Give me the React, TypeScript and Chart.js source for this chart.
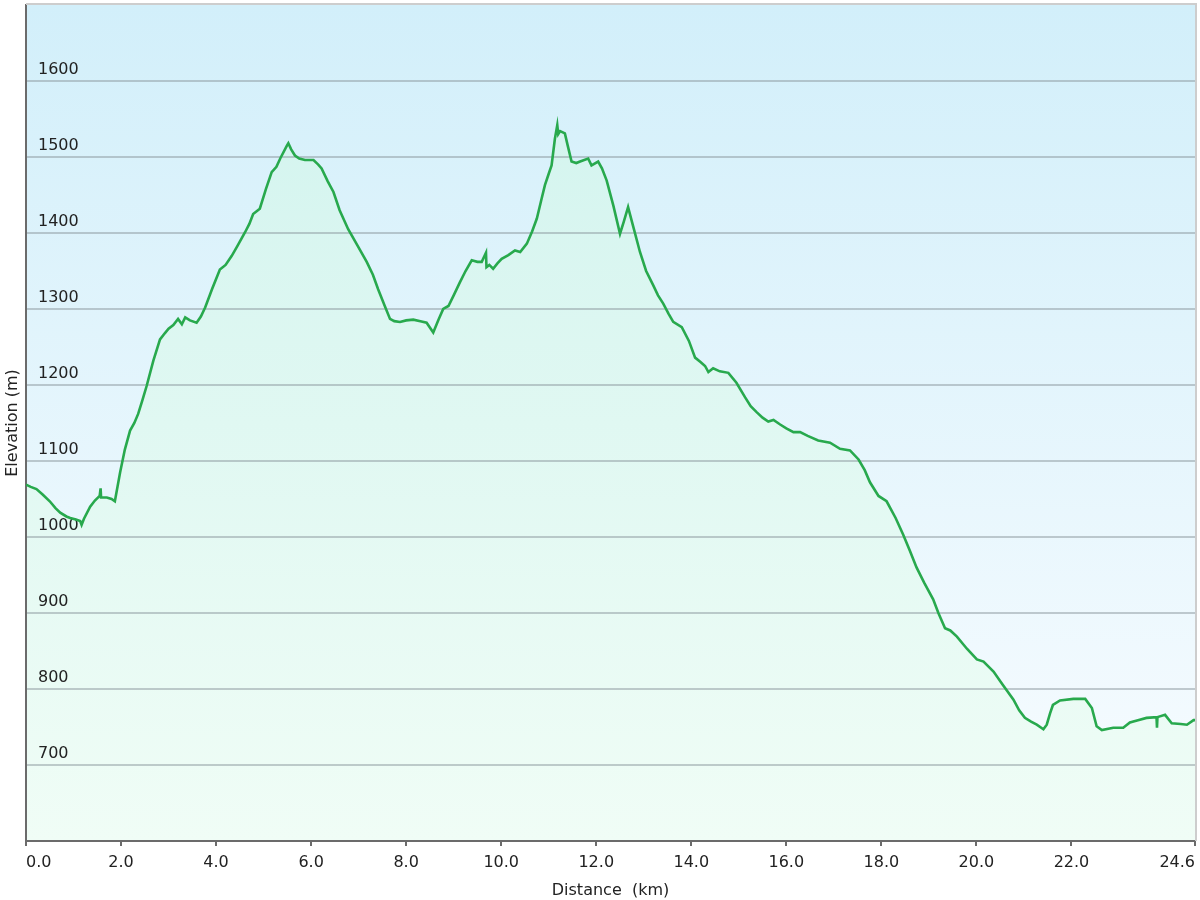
import React, { useEffect, useRef } from 'react';
import { Chart, registerables } from 'chart.js';

// Distance along the route (km)
const distanceKm = [
  0.0, 0.1, 0.22, 0.35, 0.5, 0.62, 0.72, 0.85, 0.93, 1.05, 1.14, 1.17, 1.22, 1.35, 1.45, 1.55, 1.57, 1.58, 1.7, 1.8,
  1.87, 1.98, 2.08, 2.19, 2.28, 2.36, 2.45, 2.54, 2.68, 2.82, 2.92, 3.0, 3.1, 3.2, 3.28, 3.35, 3.45, 3.59, 3.68, 3.77,
  3.92, 4.08, 4.2, 4.33, 4.45, 4.61, 4.7, 4.78, 4.92, 5.05, 5.17, 5.27, 5.35, 5.49, 5.52, 5.58, 5.66, 5.75, 5.87, 6.05,
  6.15, 6.22, 6.35, 6.47, 6.6, 6.78, 6.98, 7.17, 7.3, 7.41, 7.55, 7.66, 7.75, 7.87, 8.0, 8.15, 8.3, 8.43, 8.57, 8.68,
  8.78, 8.89, 9.0, 9.13, 9.25, 9.38, 9.5, 9.59, 9.68, 9.69, 9.75, 9.83, 9.92, 10.01, 10.15, 10.29, 10.4, 10.54, 10.65, 10.75,
  10.85, 10.92, 11.0, 11.06, 11.13, 11.18, 11.2, 11.24, 11.34, 11.4, 11.48, 11.58, 11.66, 11.83, 11.9, 12.04, 12.12, 12.22, 12.36, 12.5,
  12.58, 12.67, 12.78, 12.92, 13.05, 13.2, 13.3, 13.41, 13.52, 13.62, 13.8, 13.95, 14.08, 14.2, 14.29, 14.36, 14.46, 14.6, 14.78, 14.95,
  15.13, 15.25, 15.38, 15.5, 15.62, 15.73, 15.87, 16.0, 16.15, 16.29, 16.45, 16.67, 16.92, 17.13, 17.34, 17.52, 17.65, 17.76, 17.94, 18.11,
  18.3, 18.46, 18.6, 18.74, 18.9, 19.09, 19.2, 19.34, 19.45, 19.59, 19.8, 20.01, 20.15, 20.36, 20.55, 20.78, 20.9, 21.02, 21.15, 21.27,
  21.41, 21.48, 21.55, 21.61, 21.76, 22.04, 22.29, 22.43, 22.53, 22.64, 22.88, 23.09, 23.23, 23.4, 23.58, 23.79, 23.8, 23.81, 23.97, 24.11,
  24.3, 24.43, 24.57, 24.6,
];

// Elevation (m)
const elevationM = [
  1069, 1066, 1063, 1056, 1047, 1038, 1032, 1027, 1025, 1023, 1021, 1016, 1024, 1040, 1048, 1054, 1064, 1052, 1052, 1050,
  1047, 1085, 1115, 1140, 1150, 1162, 1180, 1199, 1232, 1260, 1268, 1274, 1279, 1287, 1280, 1289, 1285, 1282, 1290, 1302,
  1327, 1352, 1358, 1370, 1383, 1401, 1412, 1425, 1432, 1458, 1480, 1487, 1498, 1515, 1518, 1510, 1502, 1498, 1496, 1496,
  1490, 1485, 1468, 1454, 1430, 1405, 1383, 1362, 1345, 1326, 1304, 1287, 1284, 1283, 1285, 1286, 1284, 1282, 1269, 1286,
  1300, 1304, 1318, 1335, 1350, 1364, 1362, 1362, 1374, 1355, 1358, 1353, 1360, 1366, 1371, 1377, 1375, 1386, 1402, 1419,
  1445, 1463, 1478, 1489, 1524, 1542, 1530, 1534, 1531, 1515, 1494, 1492, 1494, 1498, 1489, 1494, 1485, 1469, 1436, 1399,
  1415, 1434, 1408, 1375, 1350, 1331, 1318, 1307, 1294, 1283, 1276, 1258, 1236, 1230, 1225, 1217, 1222, 1218, 1216, 1203,
  1184, 1172, 1164, 1157, 1152, 1154, 1148, 1143, 1138, 1138, 1133, 1127, 1124, 1116, 1114, 1102, 1088, 1072, 1054, 1047,
  1025, 1003, 982, 960, 940, 918, 900, 880, 877, 869, 853, 839, 836, 823, 806, 786, 772, 762, 757, 753,
  747, 753, 768, 779, 785, 787, 787, 775, 751, 746, 749, 749, 756, 759, 762, 763, 749, 763, 766, 755,
  754, 753, 759, 759,
];

const xTickValues = [0, 2, 4, 6, 8, 10, 12, 14, 16, 18, 20, 22, 24.6];
const yTickValues = [700, 800, 900, 1000, 1100, 1200, 1300, 1400, 1500, 1600];

const FONT = 'DejaVu Sans, Verdana, sans-serif';

const plotBackground = {
  id: 'plotBackground',
  beforeDraw(chart: any) {
    const { ctx, chartArea } = chart;
    if (!chartArea) return;
    const g = ctx.createLinearGradient(0, chartArea.top, 0, chartArea.bottom);
    g.addColorStop(0, 'rgb(210,239,250)');
    g.addColorStop(1, 'rgb(248,252,255)');
    ctx.save();
    ctx.fillStyle = g;
    ctx.fillRect(chartArea.left, chartArea.top, chartArea.right - chartArea.left, chartArea.bottom - chartArea.top);
    ctx.restore();
  },
  afterDraw(chart: any) {
    const { ctx, chartArea } = chart;
    if (!chartArea) return;
    ctx.save();
    ctx.strokeStyle = '#cdcdcd';
    ctx.lineWidth = 2;
    ctx.beginPath();
    ctx.moveTo(chartArea.left, chartArea.top - 1);
    ctx.lineTo(chartArea.right + 1, chartArea.top - 1);
    ctx.lineTo(chartArea.right + 1, chartArea.bottom);
    ctx.stroke();
    ctx.restore();
  },
};

Chart.register(plotBackground);
Chart.register(...registerables);

export default function App() {
  const canvasRef = useRef<HTMLCanvasElement | null>(null);

  useEffect(() => {
    if (!canvasRef.current) return;
    const points = distanceKm.map((d, i) => ({ x: d, y: elevationM[i] }));
    const chart = new Chart(canvasRef.current, {
      type: 'line',
      data: {
        datasets: [
          {
            label: 'Elevation',
            data: points,
            borderColor: '#28a94d',
            borderWidth: 2.6,
            pointRadius: 0,
            tension: 0,
            fill: 'start',
            backgroundColor: (c: any) => {
              const { chart: ch } = c;
              const area = ch.chartArea;
              if (!area) return 'rgba(220,248,238,1)';
              const g = ch.ctx.createLinearGradient(0, area.top, 0, area.bottom);
              g.addColorStop(0, 'rgb(208,243,238)');
              g.addColorStop(1, 'rgb(240,253,246)');
              return g;
            },
          },
        ],
      },
      options: {
        animation: false,
        responsive: false,
        devicePixelRatio: 1,
        layout: { padding: { top: 5, right: 5, left: 0, bottom: 0 } },
        plugins: {
          legend: { display: false },
          tooltip: { enabled: false },
          filler: { drawTime: 'beforeDraw' },
        },
        scales: {
          x: {
            type: 'linear',
            min: 0,
            max: 24.6,
            afterBuildTicks: (s: any) => {
              s.ticks = xTickValues.map((v) => ({ value: v }));
            },
            afterFit: (s: any) => {
              s.height = 59;
              s.paddingLeft = 0;
              s.paddingRight = 0;
            },
            ticks: {
              align: 'inner',
              padding: 7,
              color: '#222',
              autoSkip: false,
              maxRotation: 0,
              font: { family: FONT, size: 16 },
              callback: (v: any) => Number(v).toFixed(1),
            },
            grid: {
              drawOnChartArea: false,
              drawTicks: true,
              tickLength: 5,
              color: '#6b6b6b',
              lineWidth: 2,
            },
            border: { display: true, color: '#6b6b6b', width: 2 },
            title: {
              display: true,
              text: 'Distance  (km)',
              color: '#222',
              font: { family: FONT, size: 16 },
              padding: { top: 0, bottom: 0 },
            },
          },
          y: {
            type: 'linear',
            min: 600,
            max: 1700,
            afterBuildTicks: (s: any) => {
              s.ticks = yTickValues.map((v) => ({ value: v }));
            },
            afterFit: (s: any) => {
              s.width = 26;
              s.paddingTop = 0;
              s.paddingBottom = 0;
            },
            ticks: {
              mirror: true,
              padding: 12,
              labelOffset: -11,
              color: '#222',
              autoSkip: false,
              font: { family: FONT, size: 16 },
              callback: (v: any) => String(v),
            },
            grid: {
              drawTicks: false,
              color: 'rgba(140,152,158,0.5)',
              lineWidth: 2,
            },
            border: { display: true, color: '#6b6b6b', width: 2 },
            title: {
              display: true,
              text: 'Elevation (m)',
              color: '#222',
              font: { family: FONT, size: 16 },
              padding: { top: 3, bottom: 0 },
            },
          },
        },
      } as any,
    });
    return () => chart.destroy();
  }, []);

  return (
    <div style={{ position: 'absolute', left: 0, top: 0, width: 1200, height: 900 }}>
      <canvas ref={canvasRef} width={1200} height={900} />
    </div>
  );
}
